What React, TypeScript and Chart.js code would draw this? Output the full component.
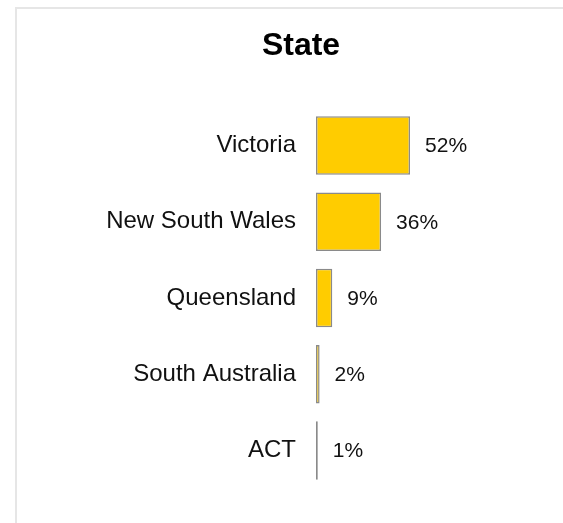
import React, { useEffect, useRef } from "react";
import { Chart, registerables } from "chart.js";

Chart.register(...registerables);

const categories = ["Victoria", "New South Wales", "Queensland", "South Australia", "ACT"];
const values = [52, 36, 9, 2, 1];
const valueLabels = ["52%", "36%", "9%", "2%", "1%"];
const chartTitle = "State";

const FONT = "'Liberation Sans', Arial, Helvetica, sans-serif";

const valueLabelPlugin = {
  id: "valueLabels",
  afterDatasetsDraw(chart: any) {
    const ctx = chart.ctx;
    const meta = chart.getDatasetMeta(0);
    ctx.save();
    ctx.font = `21px ${FONT}`;
    ctx.fillStyle = "#111";
    ctx.textAlign = "left";
    ctx.textBaseline = "middle";
    meta.data.forEach((bar: any, i: number) => {
      ctx.fillText(valueLabels[i], bar.x + 15, bar.y + 1);
    });
    ctx.restore();
  },
};

export default function App() {
  const ref = useRef<HTMLCanvasElement | null>(null);
  useEffect(() => {
    if (!ref.current) return;
    const chart = new Chart(ref.current, {
      type: "bar",
      data: {
        labels: categories,
        datasets: [
          {
            data: values,
            backgroundColor: "#FFCC00",
            borderColor: "#8a8a8a",
            borderWidth: 1.5,
            borderSkipped: false,
            barPercentage: 0.77,
            categoryPercentage: 1,
          },
        ],
      },
      options: {
        indexAxis: "y",
        animation: false,
        responsive: false,
        devicePixelRatio: 1,
        layout: { padding: { left: 39, right: 0, top: 0, bottom: 28 } },
        plugins: {
          legend: { display: false },
          tooltip: { enabled: false },
          title: {
            display: true,
            text: chartTitle,
            color: "#000",
            font: { family: FONT, size: 32, weight: "bold" },
            padding: { top: 27, bottom: 42 },
          },
        },
        scales: {
          x: {
            display: false,
            min: 0,
            max: 136.6,
          },
          y: {
            grid: { display: false, drawTicks: false },
            border: { display: false },
            ticks: {
              color: "#111",
              padding: 20,
              font: { family: FONT, size: 24 },
            },
            afterFit(scale: any) {
              scale.width = 277;
            },
          },
        },
      },
      plugins: [valueLabelPlugin],
    });
    return () => chart.destroy();
  }, []);

  return (
    <div style={{ position: "fixed", left: 0, top: 0, width: 563, height: 523, overflow: "hidden", background: "#fff" }}>
      <div
        style={{
          position: "absolute",
          left: 15,
          top: 7,
          width: 700,
          height: 700,
          border: "2px solid #e6e6e6",
          boxSizing: "border-box",
        }}
      />
      <canvas ref={ref} width={563} height={523} style={{ position: "absolute", left: 0, top: 0, width: 563, height: 523 }} />
    </div>
  );
}
